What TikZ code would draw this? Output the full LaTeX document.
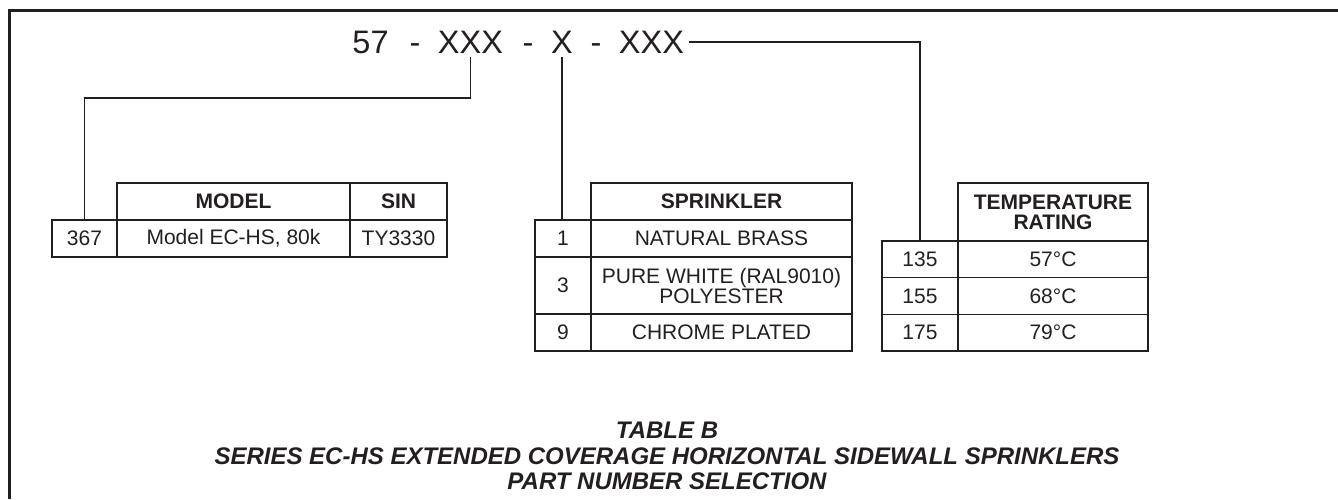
\documentclass[tikz,border=0pt]{standalone}
\usepackage{fontspec}
\setmainfont{Liberation Sans}
\definecolor{ink}{HTML}{231F20}
\tikzset{
	cell/.style={draw=ink, line width=1.5pt, inner sep=0pt, align=center, text=ink, font=\fontsize{21}{19}\selectfont},
	head/.style={cell, font=\fontsize{21}{20}\selectfont\bfseries},
	code/.style={anchor=base, inner sep=0pt, outer xsep=5pt, outer ysep=4pt, text=ink, font=\fontsize{32.5}{32}\selectfont},
	wire/.style={draw=ink, line width=1.4pt},
}

\begin{document}
\begin{tikzpicture}[x=1pt, y=-1pt]
		%%%%% START %%%%%
		\useasboundingbox (0, 0) rectangle (1338, 499);
		
		\draw[ink, line width=2.8pt] (9.7, 499) -- (9.7, 10.3) -- (1338, 10.3);
		
		\node[code] (n57) at (370.5, 53) {57};
		\node[code] (dashA) at (415, 53) {-};
		\node[code] (xModel) at (470.5, 53) {XXX};
		\node[code] (dashB) at (528, 53) {-};
		\node[code] (xFin) at (562, 53) {X};
		\node[code] (dashC) at (596, 53) {-};
		\node[code] (xTemp) at (651.5, 53) {XXX};
		
		\node[head, minimum width=233, minimum height=37] (hModel) at (233.5, 201.5) {MODEL};
		\node[head, minimum width=97, minimum height=37] (hSin) at (398.5, 201.5) {SIN};
		\node[cell, minimum width=65, minimum height=37] (c367) at (84.5, 238.5) {367};
		\node[cell, minimum width=233, minimum height=37] (cModel) at (233.5, 238.5) {Model EC-HS, 80k};
		\node[cell, minimum width=97, minimum height=37] (cSin) at (398.5, 238.5) {TY3330};
		
		\node[head, minimum width=261, minimum height=37] (hSpr) at (721.5, 201.5) {SPRINKLER};
		\node[cell, minimum width=56, minimum height=37] (cNum1) at (563, 238.5) {1};
		\node[cell, minimum width=261, minimum height=37] (cFin1) at (721.5, 238.5) {NATURAL BRASS};
		\node[cell, minimum width=56, minimum height=57] (cNum3) at (563, 285.5) {3};
		\node[cell, minimum width=261, minimum height=57] (cFin3) at (721.5, 285.5) {PURE WHITE (RAL9010)\\POLYESTER};
		\node[cell, minimum width=56, minimum height=37] (cNum9) at (563, 332.5) {9};
		\node[cell, minimum width=261, minimum height=37] (cFin9) at (721.5, 332.5) {CHROME PLATED};
		
		\node[head, minimum width=190, minimum height=58] (hTemp) at (1053, 212) {TEMPERATURE\\RATING};
		\node[cell, minimum width=76, minimum height=36.7] (c135) at (920, 259.3) {135};
		\node[cell, minimum width=190, minimum height=36.7] (t57) at (1053, 259.3) {57°C};
		\node[cell, minimum width=76, minimum height=36.7] (c155) at (920, 296) {155};
		\node[cell, minimum width=190, minimum height=36.7] (t68) at (1053, 296) {68°C};
		\node[cell, minimum width=76, minimum height=36.7] (c175) at (920, 332.7) {175};
		\node[cell, minimum width=190, minimum height=36.7] (t79) at (1053, 332.7) {79°C};
		
		\coordinate (bendModel) at (0, 98);
		\draw[wire] (xModel.south) -- (xModel.south |- bendModel) -| (c367.north);
		\draw[wire] (xFin.south) -- (xFin.south |- cNum1.north);
		\draw[wire] (xTemp.east) -| (c135.north);
		
		\node[text=ink, align=center, font=\fontsize{24}{25.5}\selectfont\bfseries\itshape] (title) at (667, 456) {TABLE B\\SERIES EC-HS EXTENDED COVERAGE HORIZONTAL SIDEWALL SPRINKLERS\\PART NUMBER SELECTION};
		%%%%% END %%%%%
\end{tikzpicture}
\end{document}
